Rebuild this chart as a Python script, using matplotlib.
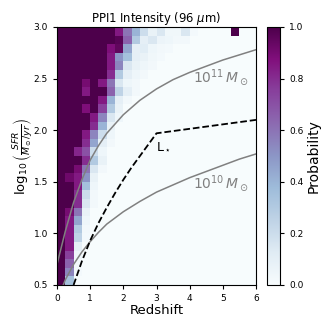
import numpy as np
import matplotlib
matplotlib.use("Agg")
import matplotlib.pyplot as plt

# ---- data -------------------------------------------------------------
x_edges = np.arange(0.0, 6.0001, 0.25)          # redshift bins
y_edges = np.linspace(0.5, 3.0, 31)             # log SFR bins

# probability rows, listed from top (y=3.0) to bottom (y=0.5); 24 columns each
prob_rows = [
    [1, 1, 1, 1, 1, 1, 1, .85, .6, .4, .2, .08, .15, .04, .04, .15, .02, 0, 0, 0, 0, 1.0, 0, 0],
    [1, 1, 1, 1, 1, 1, 1, .97, .65, .3, .1, .15, .06, .05, .03, .03, 0, 0, 0, 0, 0, 0, 0, 0],
    [1, 1, 1, 1, 1, 1, .88, .95, .45, .1, .12, .05, .03, .02, 0, 0, 0, 0, 0, 0, 0, 0, 0, 0],
    [1, 1, 1, 1, 1, 1, .85, .5, .35, .1, .08, .04, .02, 0, 0, 0, 0, 0, 0, 0, 0, 0, 0, 0],
    [1, 1, 1, 1, 1, 1, .85, .55, .15, .08, .05, .03, 0, 0, 0, 0, 0, 0, 0, 0, 0, 0, 0, 0],
    [1, 1, 1, 1, 1, 1, .8, .3, .1, .05, .03, 0, 0, 0, 0, 0, 0, 0, 0, 0, 0, 0, 0, 0],
    [1, 1, 1, .9, 1, .85, .6, .15, .05, .03, 0, 0, 0, 0, 0, 0, 0, 0, 0, 0, 0, 0, 0, 0],
    [1, 1, 1, .85, 1, 1, .65, .25, .1, .03, 0, 0, 0, 0, 0, 0, 0, 0, 0, 0, 0, 0, 0, 0],
    [1, 1, 1, 1, 1, .85, .4, .1, .03, 0, 0, 0, 0, 0, 0, 0, 0, 0, 0, 0, 0, 0, 0, 0],
    [1, 1, 1, .88, 1, .75, .3, .08, 0, 0, 0, 0, 0, 0, 0, 0, 0, 0, 0, 0, 0, 0, 0, 0],
    [1, 1, 1, 1, .85, .55, .15, .05, 0, 0, 0, 0, 0, 0, 0, 0, 0, 0, 0, 0, 0, 0, 0, 0],
    [1, 1, 1, 1, .8, .4, .08, 0, 0, 0, 0, 0, 0, 0, 0, 0, 0, 0, 0, 0, 0, 0, 0, 0],
    [1, 1, 1, .85, .55, .2, .05, 0, 0, 0, 0, 0, 0, 0, 0, 0, 0, 0, 0, 0, 0, 0, 0, 0],
    [1, 1, 1, .8, .45, .1, .03, 0, 0, 0, 0, 0, 0, 0, 0, 0, 0, 0, 0, 0, 0, 0, 0, 0],
    [1, 1, .82, .7, .2, .05, 0, 0, 0, 0, 0, 0, 0, 0, 0, 0, 0, 0, 0, 0, 0, 0, 0, 0],
    [1, 1, 1, .8, .3, .08, 0, 0, 0, 0, 0, 0, 0, 0, 0, 0, 0, 0, 0, 0, 0, 0, 0, 0],
    [1, 1, .9, .6, .15, .03, 0, 0, 0, 0, 0, 0, 0, 0, 0, 0, 0, 0, 0, 0, 0, 0, 0, 0],
    [1, .92, .85, .5, .08, 0, 0, 0, 0, 0, 0, 0, 0, 0, 0, 0, 0, 0, 0, 0, 0, 0, 0, 0],
    [1, 1, .85, .35, .05, 0, 0, 0, 0, 0, 0, 0, 0, 0, 0, 0, 0, 0, 0, 0, 0, 0, 0, 0],
    [1, 1, .8, .2, .03, 0, 0, 0, 0, 0, 0, 0, 0, 0, 0, 0, 0, 0, 0, 0, 0, 0, 0, 0],
    [1, 1, .8, .15, .03, 0, 0, 0, 0, 0, 0, 0, 0, 0, 0, 0, 0, 0, 0, 0, 0, 0, 0, 0],
    [1, .9, .6, .08, 0, 0, 0, 0, 0, 0, 0, 0, 0, 0, 0, 0, 0, 0, 0, 0, 0, 0, 0, 0],
    [1, .85, .45, .05, 0, 0, 0, 0, 0, 0, 0, 0, 0, 0, 0, 0, 0, 0, 0, 0, 0, 0, 0, 0],
    [1, .85, .3, .03, 0, 0, 0, 0, 0, 0, 0, 0, 0, 0, 0, 0, 0, 0, 0, 0, 0, 0, 0, 0],
    [1, .85, .25, .02, 0, 0, 0, 0, 0, 0, 0, 0, 0, 0, 0, 0, 0, 0, 0, 0, 0, 0, 0, 0],
    [1, .85, .1, 0, 0, 0, 0, 0, 0, 0, 0, 0, 0, 0, 0, 0, 0, 0, 0, 0, 0, 0, 0, 0],
    [1, .75, .05, 0, 0, 0, 0, 0, 0, 0, 0, 0, 0, 0, 0, 0, 0, 0, 0, 0, 0, 0, 0, 0],
    [1, .65, .03, 0, 0, 0, 0, 0, 0, 0, 0, 0, 0, 0, 0, 0, 0, 0, 0, 0, 0, 0, 0, 0],
    [1, .55, .02, 0, 0, 0, 0, 0, 0, 0, 0, 0, 0, 0, 0, 0, 0, 0, 0, 0, 0, 0, 0, 0],
    [1, .35, 0, 0, 0, 0, 0, 0, 0, 0, 0, 0, 0, 0, 0, 0, 0, 0, 0, 0, 0, 0, 0, 0],
]

# main-sequence tracks
ms11_z = [0.0, 0.25, 0.5, 0.75, 1.0, 1.25, 1.5, 2.0, 2.5, 3.0, 3.5, 4.0, 4.5, 5.0, 5.5, 6.0]
ms11_y = [0.70, 1.02, 1.30, 1.52, 1.71, 1.85, 1.97, 2.15, 2.29, 2.40, 2.49, 2.56, 2.62, 2.68, 2.73, 2.78]
ms10_z = [0.1, 0.25, 0.5, 0.75, 1.0, 1.25, 1.5, 2.0, 2.5, 3.0, 3.5, 4.0, 4.5, 5.0, 5.5, 6.0]
ms10_y = [0.43, 0.55, 0.70, 0.82, 0.92, 1.01, 1.09, 1.21, 1.31, 1.40, 1.47, 1.54, 1.60, 1.66, 1.72, 1.77]

# L* track
lstar_z = [0.5, 0.75, 1.0, 1.25, 1.5, 1.75, 2.0, 2.25, 2.5, 2.75, 3.0, 6.0]
lstar_y = [0.5, 0.73, 0.93, 1.10, 1.25, 1.39, 1.52, 1.64, 1.75, 1.86, 1.97, 2.10]

x_ticks = [0, 1, 2, 3, 4, 5, 6]
y_ticks = [0.5, 1.0, 1.5, 2.0, 2.5, 3.0]
cb_ticks = [0.0, 0.2, 0.4, 0.6, 0.8, 1.0]

# ---- figure -----------------------------------------------------------
fig = plt.figure(figsize=(3.27, 3.27), dpi=100)
ax = fig.add_axes([57 / 327, 42 / 327, 199 / 327, 258 / 327])
cax = fig.add_axes([267 / 327, 42 / 327, 13 / 327, 258 / 327])

prob = np.array(prob_rows, dtype=float)[::-1]
mesh = ax.pcolormesh(x_edges, y_edges, prob, cmap="BuPu", vmin=0, vmax=1)

ax.plot(ms11_z, ms11_y, color="grey", lw=1.1)
ax.plot(ms10_z, ms10_y, color="grey", lw=1.1)
ax.plot(lstar_z, lstar_y, color="black", lw=1.3, ls="--")

ax.text(4.95, 2.51, r"$10^{11}\,M_\odot$", color="grey", fontsize=10,
        ha="center", va="center")
ax.text(4.95, 1.48, r"$10^{10}\,M_\odot$", color="grey", fontsize=10,
        ha="center", va="center")
ax.text(3.0, 1.84, r"L$_\star$", color="black", fontsize=9,
        ha="left", va="center")

ax.set_xlim(0, 6)
ax.set_ylim(0.5, 3.0)
ax.set_xticks(x_ticks)
ax.set_yticks(y_ticks)
ax.tick_params(labelsize=6.5, length=3)
ax.set_xlabel("Redshift", fontsize=9.5, labelpad=1)
ax.set_ylabel(r"$\log_{10}\left(\frac{SFR}{M_\odot/yr}\right)$", fontsize=9.5, labelpad=-1)
ax.set_title(r"PPI1 Intensity (96 $\mu$m)", fontsize=8.4, pad=3)

cb = fig.colorbar(mesh, cax=cax, ticks=cb_ticks)
cb.ax.tick_params(labelsize=6.5, length=3)
cb.set_label("Probability", fontsize=10, labelpad=2)

fig.savefig("out.png", dpi=100)
